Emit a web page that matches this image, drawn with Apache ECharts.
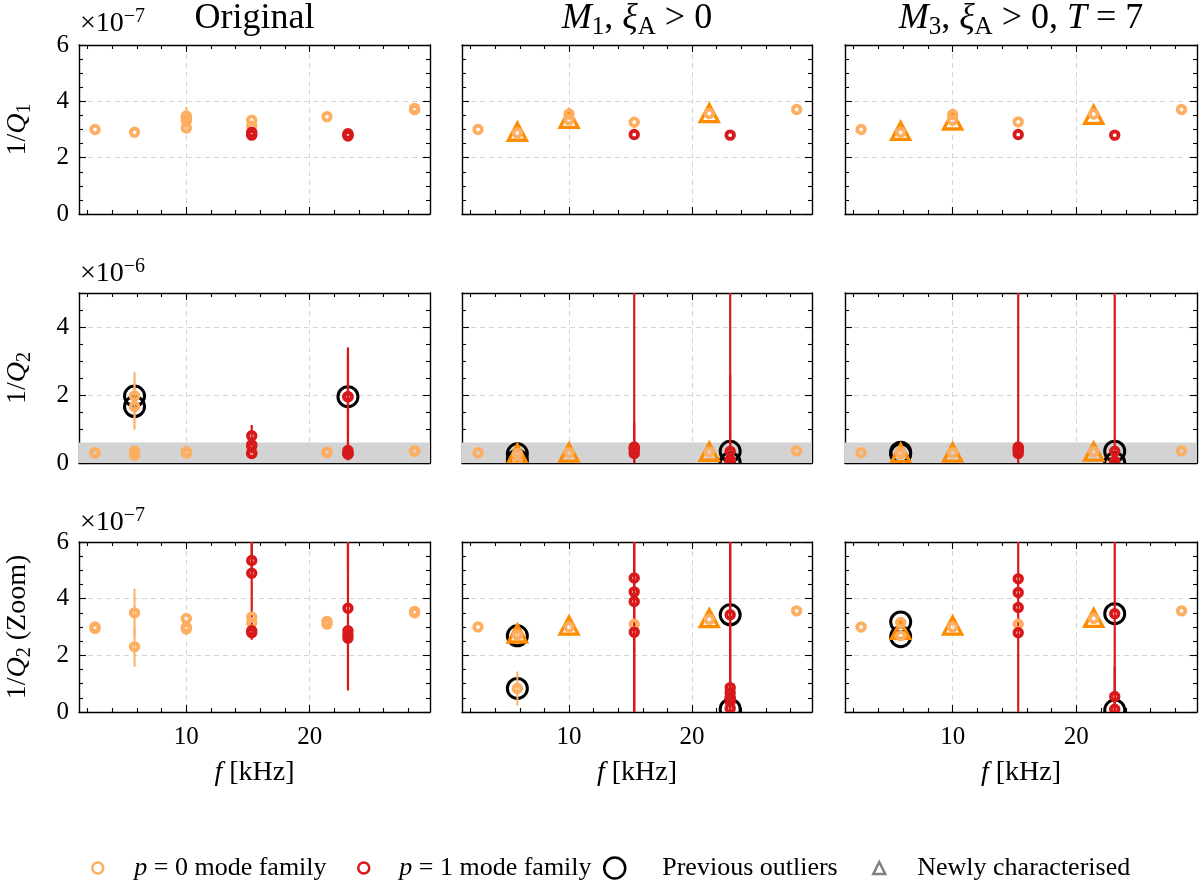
<!DOCTYPE html>
<html><head><meta charset="utf-8">
<script src="https://cdn.jsdelivr.net/npm/echarts@6/dist/echarts.min.js"></script>
<style>html,body{margin:0;padding:0;background:#fff}#c{width:1203px;height:886px}</style>
</head><body><div id="c"></div>
<script>
// ---------------- DATA (1/Q values in units of 1e-7; points are [f kHz, value, symmetric error]) ----------------
const freqMajorTicks = [10, 20];
const freqMinorTicks = [2, 4, 6, 8, 12, 14, 16, 18, 22, 24, 26, 28];
const q1MajorTicks = [0, 2, 4, 6];
const q1MinorTicks = [0.5, 1, 1.5, 2.5, 3, 3.5, 4.5, 5, 5.5];
const q2MajorTicks = [0, 20, 40];            // shown as 0, 2, 4 (x1e-6)
const q2MinorTicks = [5, 10, 15, 25, 30, 35, 45];
const zoomBand = [0, 6];

// Row 1: 1/Q1
const q1Orig_p0 = [[2.6,3.0],[5.8,2.9],[10.0,3.05],[10.0,3.3],[10.0,3.4,0.4],[10.0,3.48],[15.3,3.33],[15.3,3.12],[21.4,3.45],[28.5,3.7],[28.5,3.75]];
const q1Orig_p1 = [[15.3,2.9],[15.3,2.85],[15.3,2.8],[23.1,2.85],[23.1,2.8],[23.1,2.77]];
const q1Orig_new = [];
const q1Orig_out = [];

const q1M1_p0 = [[2.6,3.0],[5.8,2.88],[10.0,3.55],[10.0,3.35],[15.3,3.26],[21.4,3.57],[28.5,3.71]];
const q1M1_p1 = [[15.3,2.82],[23.1,2.8]];
const q1M1_new = [[5.8,2.92],[10.0,3.38],[21.4,3.58]];
const q1M1_out = [];

const q1M3_p0 = [[2.6,3.0],[5.8,2.9],[10.0,3.53],[10.0,3.33],[15.3,3.27],[21.4,3.55],[28.5,3.71]];
const q1M3_p1 = [[15.3,2.82],[23.1,2.8]];
const q1M3_new = [[5.8,2.95],[10.0,3.32],[21.4,3.52]];
const q1M3_out = [];

// Rows 2 and 3: 1/Q2 (row 3 is a zoom of row 2)
const q2Orig_p0 = [[2.6,3.0],[2.6,2.95],[5.8,19.7,7.0],[5.8,16.6,6.8],[5.8,3.5,0.85],[5.8,2.3,0.7],[10.0,3.3],[10.0,3.0],[10.0,2.93],[15.3,3.35],[15.3,3.15],[21.4,3.2],[21.4,3.1],[28.5,3.55],[28.5,3.5]];
const q2Orig_p1 = [[15.3,8.0,3.2],[15.3,5.35],[15.3,4.9,2.35],[15.3,2.87],[15.3,2.8],[23.1,19.5,14.5],[23.1,19.5,12.0],[23.1,3.66,2.9],[23.1,2.87],[23.1,2.72],[23.1,2.6]];
const q2Orig_new = [];
const q2Orig_out = [[5.8,19.7],[5.8,16.6],[23.1,19.5]];

const q2M1_p0 = [[2.6,3.0],[5.8,2.72,0.3],[5.8,0.83,0.6],[10.0,3.0],[15.3,3.1],[21.4,3.27],[28.5,3.57]];
const q2M1_p1 = [[15.3,4.73,80],[15.3,4.24],[15.3,3.9,8],[15.3,2.82],[23.1,3.43,80],[23.1,0.5,25.5],[23.1,0.86],[23.1,0.68],[23.1,0.48],[23.1,0.36],[23.1,0.13]];
const q2M1_new = [[5.8,2.77],[10.0,3.05],[21.4,3.31]];
const q2M1_out = [[5.8,2.69],[5.8,0.83],[23.1,3.43],[23.1,0.1]];

const q2M3_p0 = [[2.6,3.0],[5.8,3.16],[5.8,2.69],[10.0,3.0],[15.3,3.1],[21.4,3.3],[28.5,3.57]];
const q2M3_p1 = [[15.3,4.7,80],[15.3,4.22],[15.3,3.69],[15.3,2.8],[23.1,3.47,80],[23.1,0.55,1.05],[23.1,0.1]];
const q2M3_new = [[5.8,2.9],[10.0,3.05],[21.4,3.32]];
const q2M3_out = [[5.8,3.18],[5.8,2.66],[23.1,3.47],[23.1,0.07]];

// ---------------- STYLE / LAYOUT ----------------
const FONT = '"Liberation Serif","DejaVu Serif",serif';
const C_P0 = '#fdae61', C_P1 = '#d7191c', C_NEW = '#ff8c00', C_OUT = '#000000', C_BAND = '#d3d3d3', C_GRID = '#d4d4d4';
const X_MIN = 1.3, X_MAX = 29.75;
const cols = [{left:79,width:351},{left:462,width:350},{left:845,width:352}];
const rows = [{top:45,height:169},{top:293,height:170},{top:542,height:170}];

function rich(fs){
  const sf = Math.round(fs*0.7), lh = Math.round(fs*1.2);
  return {
    n:{fontFamily:FONT,fontSize:fs,fontWeight:'normal',color:'#000',lineHeight:lh},
    i:{fontFamily:FONT,fontSize:fs,fontWeight:'normal',fontStyle:'italic',color:'#000',lineHeight:lh},
    s:{fontFamily:FONT,fontSize:sf,fontWeight:'normal',color:'#000',verticalAlign:'top',padding:[Math.round(fs*0.5),0,0,0]},
    u:{fontFamily:FONT,fontSize:sf,fontWeight:'normal',color:'#000',verticalAlign:'top'}
  };
}
const titleRich = [
  '{n|Original}',
  '{i|M}{s|1}{n|, }{i|ξ}{s|A}{n| > 0}',
  '{i|M}{s|3}{n|, }{i|ξ}{s|A}{n| > 0, }{i|T}{n| = 7}'
];
const yNames = ['{n|1/}{i|Q}{s|1}', '{n|1/}{i|Q}{s|2}', '{n|1/}{i|Q}{s|2}{n| (Zoom)}'];
const mults = ['{n|×10}{u|−7}', '{n|×10}{u|−6}', '{n|×10}{u|−7}'];
const multTops = [7, 257, 506];

const rowCfg = [
  {max:6, interval:2, major:q1MajorTicks, minor:q1MinorTicks, div:1},
  {max:50, interval:20, major:q2MajorTicks, minor:q2MinorTicks, div:10},
  {max:6, interval:2, major:q1MajorTicks, minor:q1MinorTicks, div:1}
];
const panels = [
  [{p0:q1Orig_p0,p1:q1Orig_p1,nw:q1Orig_new,out:q1Orig_out},{p0:q1M1_p0,p1:q1M1_p1,nw:q1M1_new,out:q1M1_out},{p0:q1M3_p0,p1:q1M3_p1,nw:q1M3_new,out:q1M3_out}],
  [{p0:q2Orig_p0,p1:q2Orig_p1,nw:q2Orig_new,out:q2Orig_out},{p0:q2M1_p0,p1:q2M1_p1,nw:q2M1_new,out:q2M1_out},{p0:q2M3_p0,p1:q2M3_p1,nw:q2M3_new,out:q2M3_out}],
  [{p0:q2Orig_p0,p1:q2Orig_p1,nw:q2Orig_new,out:q2Orig_out},{p0:q2M1_p0,p1:q2M1_p1,nw:q2M1_new,out:q2M1_out},{p0:q2M3_p0,p1:q2M3_p1,nw:q2M3_new,out:q2M3_out}]
];

const tickStyle = {color:'#000', width:1.1};
const frameStyle = {color:'#000', width:1.4};
const dash = {type:[5,4], color:C_GRID, width:1};

const grid = [], xAxis = [], yAxis = [], series = [], title = [];

function errRender(color, width){
  return function(params, api){
    const x = api.value(0), y = api.value(1), e = api.value(2);
    const cs = params.coordSys;
    const a = api.coord([x, y - e]), b = api.coord([x, y + e]);
    const top = cs.y, bot = cs.y + cs.height;
    const y1 = Math.min(Math.max(a[1], top), bot), y2 = Math.min(Math.max(b[1], top), bot);
    if (y1 === y2) return null;
    return {type:'line', shape:{x1:a[0], y1:y1, x2:b[0], y2:y2}, style:{stroke:color, lineWidth:width}};
  };
}
function markRender(kind, w, h, color, lw){
  return function(params, api){
    const p = api.coord([api.value(0), api.value(1)]);
    if (kind === 'circle') {
      return {type:'circle', shape:{cx:p[0], cy:p[1], r:w/2}, style:{fill:'none', stroke:color, lineWidth:lw}};
    }
    return {type:'polygon', shape:{points:[[p[0], p[1]-h/2],[p[0]-w/2, p[1]+h/2],[p[0]+w/2, p[1]+h/2]]},
            style:{fill:'none', stroke:color, lineWidth:lw, lineJoin:'miter'}};
  };
}

for (let r = 0; r < 3; r++) {
  for (let c = 0; c < 3; c++) {
    const g = r*3 + c;
    const cfg = rowCfg[r];
    grid.push({left:cols[c].left, top:rows[r].top, width:cols[c].width, height:rows[r].height, outerBoundsMode:'none', containLabel:false});
    const xb = {type:'value', gridIndex:g, min:X_MIN, max:X_MAX, axisLabel:{show:false}, splitLine:{show:false}, axisLine:{show:false, onZero:false}, axisTick:{show:false}};
    xAxis.push(
      Object.assign({}, xb, {position:'bottom', axisLine:{show:true,onZero:false,lineStyle:frameStyle},
        axisTick:{show:true,inside:true,length:7,customValues:freqMajorTicks,lineStyle:tickStyle},
        axisLabel:{show:r===2, customValues:freqMajorTicks, margin:13, fontSize:25, fontFamily:FONT, color:'#000'},
        splitLine:{show:true, lineStyle:dash},
        name: r===2 ? '{i|f}{n| [kHz]}' : '', nameLocation:'middle', nameGap:44, nameTextStyle:{rich:rich(28)}}),
      Object.assign({}, xb, {position:'bottom', axisTick:{show:true,inside:true,length:4,customValues:freqMinorTicks,lineStyle:tickStyle}}),
      Object.assign({}, xb, {position:'top', axisLine:{show:true,onZero:false,lineStyle:frameStyle},
        axisTick:{show:true,inside:true,length:7,customValues:freqMajorTicks,lineStyle:tickStyle},
        name: r===0 ? titleRich[c] : '', nameLocation:'middle', nameGap:5, nameTextStyle:{rich:rich(36)}}),
      Object.assign({}, xb, {position:'top', axisTick:{show:true,inside:true,length:4,customValues:freqMinorTicks,lineStyle:tickStyle}})
    );
    const yb = {type:'value', gridIndex:g, min:0, max:cfg.max, interval:cfg.interval, axisLabel:{show:false}, splitLine:{show:false}, axisLine:{show:false,onZero:false}, axisTick:{show:false}};
    yAxis.push(
      Object.assign({}, yb, {position:'left', axisLine:{show:true,onZero:false,lineStyle:frameStyle},
        axisTick:{show:true,inside:true,length:7,customValues:cfg.major,lineStyle:tickStyle},
        axisLabel:{show:c===0, customValues:cfg.major, margin:10, fontSize:25, fontFamily:FONT, color:'#000', formatter:(v)=>String(v/cfg.div)},
        splitLine:{show:true, lineStyle:dash},
        name: c===0 ? yNames[r] : '', nameLocation:'middle', nameRotate:90, nameGap:44, nameTextStyle:{rich:rich(28)}}),
      Object.assign({}, yb, {position:'left', axisTick:{show:true,inside:true,length:4,customValues:cfg.minor,lineStyle:tickStyle}}),
      Object.assign({}, yb, {position:'right', axisLine:{show:true,onZero:false,lineStyle:frameStyle},
        axisTick:{show:true,inside:true,length:7,customValues:cfg.major,lineStyle:tickStyle}}),
      Object.assign({}, yb, {position:'right', axisTick:{show:true,inside:true,length:4,customValues:cfg.minor,lineStyle:tickStyle}})
    );
    const xi = g*4, yi = g*4;
    const d = panels[r][c];
    const common = {xAxisIndex:xi, yAxisIndex:yi, silent:true, animation:false, clip:true, encode:{x:0,y:1}};
    if (r === 1) {
      series.push(Object.assign({type:'scatter', name:'band', data:[], z:1,
        markArea:{silent:true, itemStyle:{color:C_BAND}, data:[[{yAxis:zoomBand[0]},{yAxis:zoomBand[1]}]]}}, common));
    }
    series.push(Object.assign({type:'custom', name:'out', data:d.out, z:2, renderItem:markRender('circle', 20, 20, C_OUT, 3)}, common));
    series.push(Object.assign({type:'custom', name:'errp0', data:d.p0.filter(p=>p.length>2), z:3, renderItem:errRender(C_P0, 2)}, common));
    series.push(Object.assign({type:'custom', name:'errp1', data:d.p1.filter(p=>p.length>2), z:3, renderItem:errRender(C_P1, 2.2)}, common));
    series.push(Object.assign({type:'custom', name:'new', data:d.nw, z:4, renderItem:markRender('triangle', 18, 17, C_NEW, 3.3)}, common));
    series.push(Object.assign({type:'custom', name:'p0', data:d.p0, z:5, renderItem:markRender('circle', 7.6, 7.6, C_P0, 3.8)}, common));
    series.push(Object.assign({type:'custom', name:'p1', data:d.p1, z:6, renderItem:markRender('circle', 7.6, 7.6, C_P1, 3.8)}, common));
  }
}

for (let r = 0; r < 3; r++) {
  title.push({text:mults[r], left:80, top:multTops[r], padding:0, textStyle:{rich:rich(28)}});
}

function legRich(gap){ const rr = rich(26); rr.g = {width:gap, lineHeight:31}; return rr; }
const legendItems = [
  {name:'p0', left:91, w:11, h:11, icon:'circle', color:C_P0, gap:26, text:'{g|}{i|p}{n| = 0 mode family}'},
  {name:'p1', left:357, w:11, h:11, icon:'circle', color:C_P1, gap:25, text:'{g|}{i|p}{n| = 1 mode family}'},
  {name:'out', left:603, w:21, h:21, icon:'circle', color:'#000', gap:32, text:'{g|}{n|Previous outliers}'},
  {name:'new', left:872, w:12, h:12, icon:'triangle', color:'#808080', gap:27, text:'{g|}{n|Newly characterised}'}
];
const legend = legendItems.map(it => ({
  left:it.left, top:855, padding:0, itemWidth:it.w, itemHeight:it.h, selectedMode:false,
  data:[{name:it.name, icon:it.icon, itemStyle:{color:'rgba(0,0,0,0)', borderColor:it.color, borderWidth:2.5}}],
  formatter:()=>it.text, textStyle:{rich:legRich(it.gap)}
}));

const chart = echarts.init(document.getElementById('c'), null, {renderer:'canvas'});
chart.setOption({animation:false, backgroundColor:'#fff', title, legend, grid, xAxis, yAxis, series});
</script>
</body></html>
